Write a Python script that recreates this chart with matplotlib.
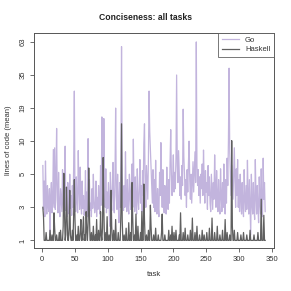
import numpy as np
import matplotlib
matplotlib.use('Agg')
import matplotlib.pyplot as plt

plt.rcParams['font.family'] = ['Liberation Sans', 'DejaVu Sans']

# data (mean lines of code per task)
go_loc = [
    6.0, 2.8, 4.5, 2.2, 6.6, 3.5, 2.4, 4.2, 3.1, 2.6,
    4.0, 1.2, 3.6, 4.4, 2.5, 3.2, 8.4, 3.0, 8.7, 2.8,
    4.6, 12.8, 3.4, 2.5, 5.2, 3.0, 2.2, 4.0, 3.3, 2.6,
    5.5, 3.2, 2.4, 3.8, 9.0, 2.7, 3.5, 2.2, 4.4, 3.1,
    2.4, 5.0, 2.9, 3.6, 2.3, 4.2, 3.0, 6.0, 26.0, 3.4,
    2.6, 4.8, 3.3, 2.5, 8.2, 4.0, 2.8, 5.8, 3.2, 2.4,
    4.5, 2.9, 3.6, 2.3, 3.0, 5.4, 2.6, 3.8, 2.2, 10.5,
    3.4, 4.6, 2.7, 3.2, 2.2, 4.0, 2.9, 5.0, 3.4, 2.5,
    3.0, 4.5, 2.2, 3.5, 2.8, 4.2, 3.3, 2.4, 6.0, 3.1,
    16.0, 3.6, 2.6, 15.5, 4.8, 3.0, 5.6, 2.5, 3.8, 2.9,
    4.4, 3.2, 1.6, 5.2, 3.5, 2.7, 4.0, 6.4, 3.0, 2.5,
    4.8, 19.0, 3.6, 2.8, 5.0, 3.2, 1.8, 4.4, 3.0, 6.5,
    58.0, 5.0, 3.4, 2.7, 4.2, 3.0, 8.0, 3.4, 2.6, 4.6,
    3.2, 2.4, 5.0, 3.6, 2.8, 4.4, 6.2, 3.0, 10.4, 3.8,
    2.6, 4.8, 3.2, 2.4, 5.6, 3.4, 2.8, 4.0, 6.8, 3.2,
    4.2, 2.6, 5.4, 3.6, 9.5, 14.0, 4.2, 3.0, 6.0, 4.5,
    3.4, 7.0, 26.0, 12.0, 8.5, 6.0, 4.4, 3.2, 5.5, 3.0,
    4.6, 2.6, 6.7, 3.4, 2.4, 4.0, 3.0, 2.2, 5.2, 3.6,
    9.7, 4.4, 3.0, 5.5, 3.6, 2.5, 4.2, 3.2, 2.4, 5.8,
    3.4, 2.8, 4.6, 3.2, 6.4, 12.5, 5.0, 3.6, 4.8, 7.5,
    3.8, 5.2, 4.0, 7.0, 35.0, 6.0, 4.4, 8.2, 5.0, 3.6,
    4.8, 3.4, 6.0, 4.2, 18.6, 7.2, 5.0, 3.6, 4.6, 3.0,
    5.5, 3.8, 6.2, 10.0, 4.6, 3.4, 5.0, 3.2, 4.4, 6.5,
    3.8, 5.2, 8.0, 4.4, 63.0, 6.0, 4.2, 5.5, 3.6, 4.8,
    3.2, 5.0, 4.0, 6.2, 3.6, 8.3, 4.6, 3.2, 5.4, 3.8,
    4.4, 2.8, 6.0, 3.6, 4.8, 3.2, 2.6, 5.0, 3.8, 2.8,
    4.4, 3.4, 7.5, 4.2, 3.0, 5.4, 3.6, 2.6, 4.6, 3.2,
    2.4, 5.6, 3.6, 2.6, 4.4, 3.0, 6.2, 3.4, 2.4, 4.6,
    3.2, 7.0, 4.2, 10.0, 39.5, 8.0, 5.0, 3.6, 6.0, 4.4,
    3.4, 5.2, 8.7, 4.4, 3.0, 5.6, 3.6, 6.8, 3.0, 4.6,
    2.6, 5.0, 3.4, 2.4, 4.4, 3.0, 2.2, 5.5, 3.4, 2.6,
    4.2, 2.8, 6.7, 3.6, 2.4, 4.6, 3.0, 1.2, 5.0, 3.2,
    2.4, 4.4, 2.8, 2.0, 6.8, 3.6, 2.4, 4.2, 3.0, 1.8,
    4.8, 3.2, 2.4, 5.6, 2.8, 2.2, 7.0, 3.4, 4.4, 2.6,
]

haskell_loc = [
    3.0, 2.2, 1.0, 1.0, 1.0, 1.3, 1.0, 1.0, 1.0, 1.0,
    1.0, 1.4, 1.0, 1.0, 1.2, 1.0, 1.0, 2.5, 1.5, 1.0,
    1.0, 1.2, 1.0, 1.0, 1.0, 1.3, 1.0, 1.4, 1.0, 1.0,
    1.0, 1.6, 5.1, 2.5, 1.0, 1.2, 4.1, 2.2, 1.0, 1.0,
    1.5, 3.9, 1.2, 1.0, 1.0, 1.4, 1.0, 2.4, 4.6, 2.0,
    1.0, 1.0, 1.2, 1.0, 1.6, 1.0, 1.0, 1.3, 2.0, 1.0,
    1.0, 1.5, 2.2, 1.0, 1.2, 1.0, 2.6, 1.4, 1.0, 1.8,
    5.7, 2.4, 1.0, 1.0, 1.3, 1.0, 1.0, 1.6, 1.0, 1.0,
    1.2, 1.0, 2.0, 1.0, 1.0, 1.4, 1.0, 1.0, 2.6, 1.2,
    1.0, 1.5, 7.1, 2.8, 1.0, 1.0, 1.3, 1.0, 2.2, 1.0,
    1.0, 1.2, 1.0, 1.0, 3.9, 1.6, 1.0, 1.0, 1.4, 1.0,
    1.0, 2.0, 1.0, 1.0, 1.0, 1.3, 1.0, 1.0, 1.0, 2.5,
    14.0, 2.0, 1.0, 1.0, 1.2, 1.0, 1.0, 1.5, 1.0, 1.0,
    1.0, 1.8, 1.0, 1.0, 1.3, 1.0, 4.4, 2.2, 1.0, 1.0,
    1.2, 1.0, 2.4, 1.0, 1.0, 1.6, 1.0, 1.0, 1.0, 1.3,
    1.0, 2.6, 1.0, 1.0, 4.3, 2.0, 1.0, 1.0, 1.2, 1.0,
    1.0, 1.4, 1.0, 1.0, 3.1, 1.6, 1.0, 1.0, 1.0, 1.2,
    1.0, 1.0, 1.5, 1.0, 1.0, 1.0, 1.2, 1.0, 1.0, 1.0,
    1.0, 1.3, 2.4, 1.0, 1.0, 1.0, 1.2, 1.0, 1.0, 1.0,
    1.0, 1.0, 1.4, 1.0, 1.0, 1.2, 1.0, 1.6, 1.0, 1.0,
    1.3, 1.0, 1.0, 1.4, 1.0, 1.0, 1.0, 1.0, 1.2, 1.0,
    2.5, 1.0, 1.0, 1.0, 1.3, 1.0, 1.0, 1.5, 1.0, 1.0,
    1.0, 1.2, 1.0, 1.0, 1.0, 1.4, 1.0, 1.0, 2.1, 1.0,
    1.0, 1.0, 1.3, 1.0, 1.0, 1.6, 1.0, 1.0, 1.0, 1.2,
    1.0, 1.0, 1.0, 1.4, 1.0, 1.0, 1.2, 1.0, 1.0, 1.0,
    1.3, 1.0, 1.0, 1.0, 1.5, 1.0, 1.0, 1.0, 2.1, 1.0,
    1.0, 1.0, 1.3, 1.0, 1.0, 1.0, 1.6, 1.0, 1.0, 1.0,
    1.2, 1.0, 1.0, 1.0, 1.4, 1.0, 1.0, 1.0, 2.0, 1.0,
    1.0, 1.3, 1.0, 1.0, 1.0, 1.2, 1.0, 1.0, 10.1, 1.6,
    1.0, 1.0, 1.4, 1.0, 1.0, 1.0, 1.0, 1.3, 1.0, 1.0,
    1.0, 1.0, 1.2, 1.0, 1.0, 1.0, 1.3, 1.0, 1.0, 1.0,
    1.0, 1.2, 1.0, 1.0, 1.0, 1.0, 1.4, 1.0, 1.0, 1.0,
    1.0, 1.0, 1.2, 1.0, 1.0, 1.0, 1.0, 1.0, 1.3, 1.0,
    1.0, 1.0, 1.0, 3.4, 1.0, 1.0, 1.0, 2.3, 1.0, 1.0,
]

y_ticks = [1, 3, 5, 10, 19, 35, 63]
x_ticks = [0, 50, 100, 150, 200, 250, 300, 350]

## Defs ##

logt = np.log(np.array(y_ticks, dtype=float))
idx = np.arange(len(y_ticks), dtype=float)


def fwd(v):
    # piecewise log axis: each labelled value sits one unit apart
    l = np.log(np.clip(np.asarray(v, dtype=float), 1e-9, None))
    out = np.interp(l, logt, idx)
    lo = (l - logt[0]) / (logt[1] - logt[0])
    hi = idx[-1] + (l - logt[-1]) / (logt[-1] - logt[-2])
    out = np.where(l < logt[0], lo, out)
    out = np.where(l > logt[-1], hi, out)
    return out


def inv(y):
    y = np.asarray(y, dtype=float)
    l = np.interp(y, idx, logt)
    lo = logt[0] + y * (logt[1] - logt[0])
    hi = logt[-1] + (y - idx[-1]) * (logt[-1] - logt[-2])
    l = np.where(y < idx[0], lo, l)
    l = np.where(y > idx[-1], hi, l)
    return np.exp(l)


task = np.arange(1, len(go_loc) + 1)
edge = '#555555'

fig = plt.figure(figsize=(2.91, 2.91), dpi=100)
ax = fig.add_axes([34 / 291, 1 - 248 / 291, 240 / 291, 215 / 291])
ax.set_yscale('function', functions=(fwd, inv))

ax.plot(task, go_loc, color='#c2b4dd', lw=0.9, label='Go')
ax.plot(task, haskell_loc, color='#606060', lw=0.9, label='Haskell')

ax.set_xlim(-12.5, 353.5)
ax.set_ylim(float(inv(-0.23)), float(inv(6.27)))
ax.set_xticks(x_ticks)
ax.set_yticks(y_ticks)
ax.set_yticklabels([str(t) for t in y_ticks], rotation=90, va='center')
ax.yaxis.set_minor_locator(matplotlib.ticker.NullLocator())
ax.tick_params(axis='both', direction='out', length=3, width=0.6, color=edge,
               labelsize=5.5, labelcolor='#333333', pad=2.5)
for s in ax.spines.values():
    s.set_color(edge)
    s.set_linewidth(0.7)

ax.set_xlabel('task', fontsize=5.5, color='#333333', labelpad=6)
ax.set_ylabel('lines of code (mean)', fontsize=5.5, color='#333333', labelpad=5)
fig.text(0.5, 1 - 17 / 291, 'Conciseness: all tasks', ha='center', va='center',
         fontsize=6.2, fontweight='bold', color='#222222')

leg = ax.legend(loc='upper right', fontsize=5.5, frameon=True, fancybox=False,
                borderaxespad=0, handlelength=2.2, handletextpad=0.8,
                borderpad=0.5, labelspacing=0.25)
leg.get_frame().set_edgecolor(edge)
leg.get_frame().set_linewidth(0.7)
for t in leg.get_texts():
    t.set_color('#333333')

plt.savefig('out.png', dpi=100)
